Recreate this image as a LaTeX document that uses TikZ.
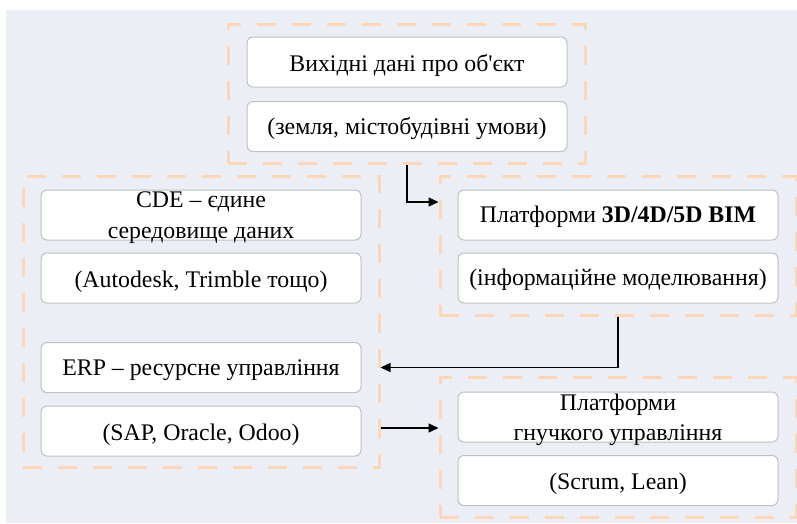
\documentclass[tikz,border=0pt]{standalone}
\usepackage{fontspec}
\setmainfont{Liberation Serif}
\usetikzlibrary{arrows.meta}
\definecolor{bgc}{RGB}{235,238,245}
\definecolor{dashc}{RGB}{252,214,182}
\definecolor{boxc}{RGB}{192,192,192}
\tikzset{
  grp/.style={draw=dashc, line width=3pt, dash pattern=on 19pt off 16pt, inner sep=0pt},
  box/.style={draw=boxc, line width=1pt, fill=white, rounded corners=6pt, minimum width=320pt, minimum height=50pt, inner sep=0pt},
  txt/.style={anchor=base, inner sep=0pt, font=\rmfamily\fontsize{23.8}{28}\selectfont},
  arr/.style={draw=black, line width=1.3pt, -{Triangle[length=10pt,width=9pt]}}
}
\begin{document}
\begin{tikzpicture}[x=1pt,y=-1pt]
\useasboundingbox (0,0) rectangle (797,523);
\clip (0,0) rectangle (797,523);
\fill[bgc] (6,10) rectangle (797,523);
% groups
\node[grp, minimum width=357pt, minimum height=139pt] (g1) at (406.5,93.5) {};
\node[grp, minimum width=356pt, minimum height=139pt] (g2) at (618,245.5) {};
\node[grp, minimum width=356pt, minimum height=291pt] (g3) at (201,321.5) {};
\node[grp, minimum width=356pt, minimum height=140pt] (g4) at (618,447) {};
% boxes
\node[box] (top1) at (407,62) {};
\node[box] (top2) at (407,126.5) {};
\node[box] (cde) at (201,215) {};
\node[box] (aut) at (201,278) {};
\node[box] (erp) at (201,367.5) {};
\node[box] (sap) at (201,431) {};
\node[box] (bim) at (618,215) {};
\node[box] (inf) at (618,278) {};
\node[box] (agl) at (618,417) {};
\node[box] (scr) at (618,480.5) {};
% texts
\node[txt] (t1) at (407,71) {Вихідні дані про об\textquotesingle єкт};
\node[txt] (t2) at (407,134) {(земля, містобудівні умови)};
\node[txt] (t3a) at (201,207) {CDE – єдине};
\node[txt] (t3b) at (201,238) {середовище даних};
\node[txt] (t4) at (201,287) {(Autodesk, Trimble тощо)};
\node[txt] (t5) at (201,375.5) {ERP – ресурсне управління};
\node[txt] (t6) at (201,440) {(SAP, Oracle, Odoo)};
\node[txt] (t7) at (618,222.5) {Платформи \textbf{3D/4D/5D BIM}};
\node[txt] (t8) at (618,285.5) {(інформаційне моделювання)};
\node[txt] (t9a) at (618,410) {Платформи};
\node[txt] (t9b) at (618,440) {гнучкого управління};
\node[txt] (t10) at (618,489) {(Scrum, Lean)};
% connectors
\coordinate (y1) at (0,202);
\coordinate (y3) at (0,428);
\draw[arr] (top1.center |- g1.south) |- (g2.west |- y1);
\draw[arr] (g2.south) |- (g3.east |- erp.center);
\draw[arr] (g3.east |- y3) -- (g4.west |- y3);
\end{tikzpicture}
\end{document}
